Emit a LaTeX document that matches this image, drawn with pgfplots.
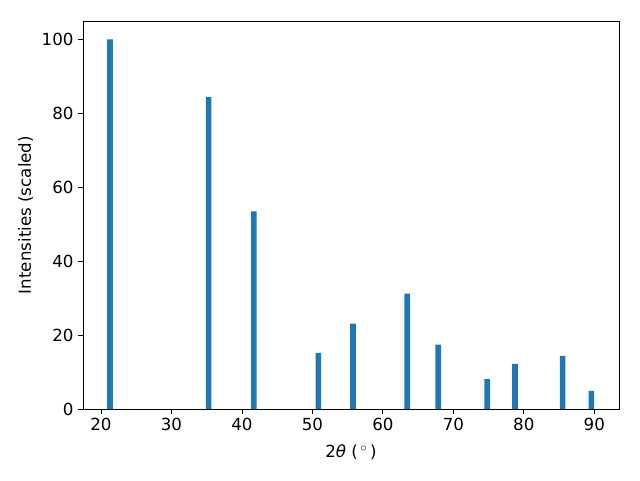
\documentclass[border=0pt]{standalone}
\usepackage{fontspec}
\setmainfont{DejaVu Sans}
\usepackage{pgfplots}
\pgfplotsset{compat=1.18}
\definecolor{mplblue}{HTML}{1F77B4}
\begin{document}
\begin{tikzpicture}[x=1pt,y=1pt]
\useasboundingbox (-62.25pt,-53.25pt) rectangle (417.75pt,306.75pt);
\begin{axis}[
  at={(0pt,0pt)}, anchor=south west,
  scale only axis,
  width=402pt, height=291pt,
  xmin=17.45, xmax=93.5,
  ymin=0, ymax=105,
  xtick={20,30,...,90},
  ytick={0,20,...,100},
  tick align=outside,
  major tick length=3.6pt,
  tick style={black, line width=0.6pt},
  axis line style={line width=0.6pt},
  xtick pos=bottom, ytick pos=left,
  font=\fontsize{12.5}{15}\selectfont,
  /pgf/number format/assume math mode=true,
  xlabel={2\textit{θ} (\,$^\circ$\,)},
  ylabel={Intensities (scaled)},
  xlabel style={yshift=-3pt},
  ylabel style={yshift=-0.5pt},
  ybar, bar width=0.8,
]
\addplot[draw=none, fill=mplblue] coordinates {
(21.29,100) (35.28,84.4) (41.7,53.5) (50.85,15.2) (55.75,23.1) (63.45,31.2) (67.85,17.4) (74.8,8.1) (78.75,12.2) (85.5,14.4) (89.58,4.9)
};
\end{axis}
\end{tikzpicture}
\end{document}
